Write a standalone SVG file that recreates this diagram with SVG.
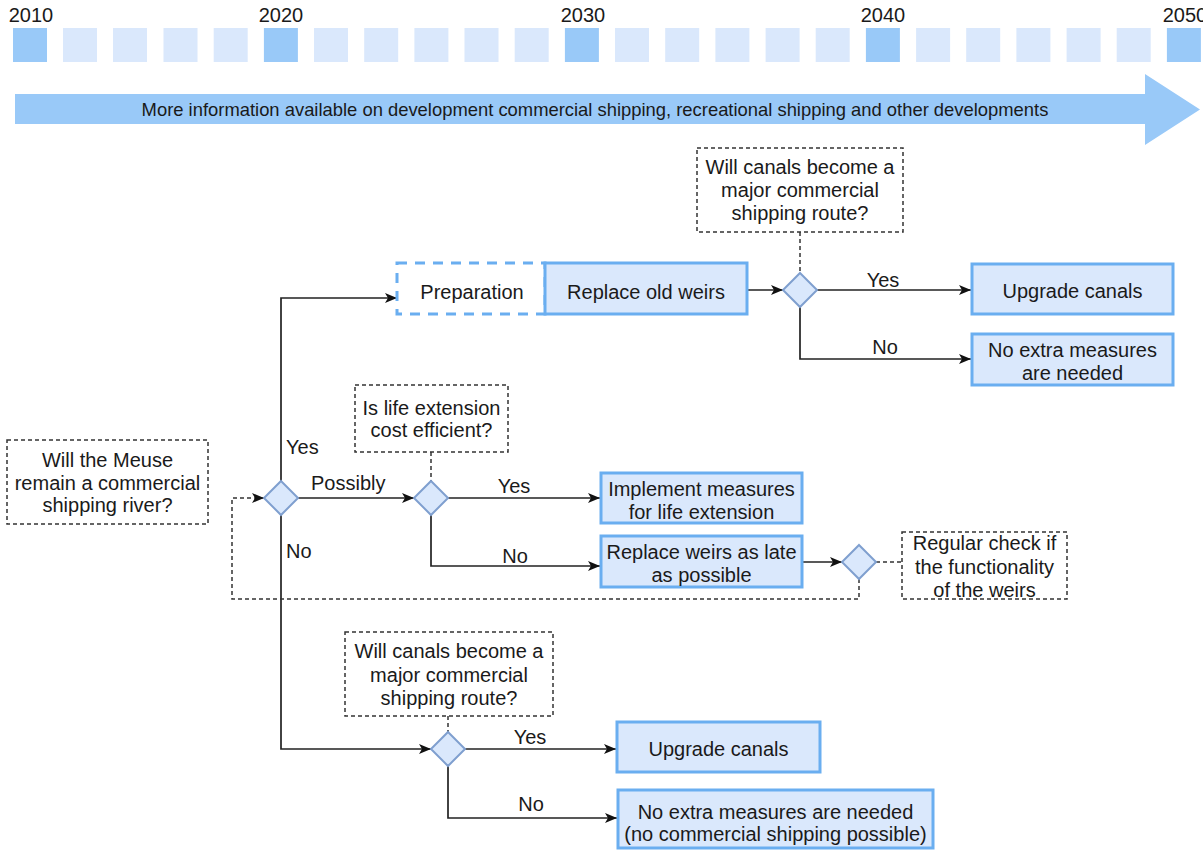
<svg xmlns="http://www.w3.org/2000/svg" width="1203" height="850" viewBox="0 0 1203 850">
<defs>
<style>
text{font-family:"Liberation Sans",Arial,sans-serif;fill:#1a1a1a;font-size:20px}
.c{text-anchor:middle}
.sq{fill:#dae8fc}
.sqd{fill:#99c9f8}
.box{fill:#dae8fc;stroke:#6aaef0;stroke-width:3}
.prep{fill:#ffffff;stroke:#6aaef0;stroke-width:3;stroke-dasharray:10 8}
.q{fill:#ffffff;stroke:#333333;stroke-width:1.5;stroke-dasharray:4 3}
.dia{fill:#dae8fc;stroke:#7f9fcf;stroke-width:2}
.ln{fill:none;stroke:#222222;stroke-width:1.7}
.dl{fill:none;stroke:#333333;stroke-width:1.5;stroke-dasharray:4 3}
</style>
<marker id="ah" viewBox="0 0 12 10" refX="12" refY="5" markerWidth="12" markerHeight="10" markerUnits="userSpaceOnUse" orient="auto">
<path d="M0,0 L12,5 L0,10 L3,5 z" fill="#111111"/>
</marker>
</defs>

<g id="timeline">
<text class="c" x="31" y="22">2010</text>
<text class="c" x="281" y="22">2020</text>
<text class="c" x="583" y="22">2030</text>
<text class="c" x="883" y="22">2040</text>
<text class="c" x="1185" y="22">2050</text>
<rect class="sqd" x="13" y="28" width="34" height="34"/>
<rect class="sq" x="63" y="28" width="34" height="34"/>
<rect class="sq" x="113" y="28" width="34" height="34"/>
<rect class="sq" x="163.5" y="28" width="34" height="34"/>
<rect class="sq" x="213.7" y="28" width="34" height="34"/>
<rect class="sqd" x="263.9" y="28" width="34" height="34"/>
<rect class="sq" x="314" y="28" width="34" height="34"/>
<rect class="sq" x="364.2" y="28" width="34" height="34"/>
<rect class="sq" x="414.4" y="28" width="34" height="34"/>
<rect class="sq" x="464.5" y="28" width="34" height="34"/>
<rect class="sq" x="514.7" y="28" width="34" height="34"/>
<rect class="sqd" x="564.9" y="28" width="34" height="34"/>
<rect class="sq" x="615" y="28" width="34" height="34"/>
<rect class="sq" x="665.2" y="28" width="34" height="34"/>
<rect class="sq" x="715.4" y="28" width="34" height="34"/>
<rect class="sq" x="765.6" y="28" width="34" height="34"/>
<rect class="sq" x="815.7" y="28" width="34" height="34"/>
<rect class="sqd" x="865.9" y="28" width="34" height="34"/>
<rect class="sq" x="916.1" y="28" width="34" height="34"/>
<rect class="sq" x="966.2" y="28" width="34" height="34"/>
<rect class="sq" x="1016.4" y="28" width="34" height="34"/>
<rect class="sq" x="1066.6" y="28" width="34" height="34"/>
<rect class="sq" x="1116.7" y="28" width="34" height="34"/>
<rect class="sqd" x="1166.9" y="28" width="34" height="34"/>
</g>

<g id="info-arrow">
<polygon points="15,94 1145,94 1145,74 1200,109.5 1145,145 1145,124 15,124" fill="#99c9f8"/>
<text class="c" x="595" y="116" style="font-size:18.4px">More information available on development commercial shipping, recreational shipping and other developments</text>
</g>

<g id="connectors">
<path class="ln" d="M281,481 V298 H397" marker-end="url(#ah)"/>
<path class="ln" d="M298,498 H414" marker-end="url(#ah)"/>
<path class="ln" d="M281,515 V749 H431" marker-end="url(#ah)"/>
<path class="ln" d="M448,498 H600" marker-end="url(#ah)"/>
<path class="ln" d="M431,515 V566 H600" marker-end="url(#ah)"/>
<path class="ln" d="M802,562 H842" marker-end="url(#ah)"/>
<path class="ln" d="M747,290 H783" marker-end="url(#ah)"/>
<path class="ln" d="M817,290 H971" marker-end="url(#ah)"/>
<path class="ln" d="M800,307 V359 H971" marker-end="url(#ah)"/>
<path class="ln" d="M465,749 H616" marker-end="url(#ah)"/>
<path class="ln" d="M448,766 V818 H617" marker-end="url(#ah)"/>
<path class="dl" d="M800,232 V273"/>
<path class="dl" d="M431,452 V481"/>
<path class="dl" d="M448,716 V732"/>
<path class="dl" d="M876,562 H902"/>
<path class="dl" d="M859,579 V599 H232 V498 H264" marker-end="url(#ah)"/>
<text x="286" y="454">Yes</text>
<text x="286" y="558">No</text>
<text x="311" y="490">Possibly</text>
<text class="c" x="514" y="493">Yes</text>
<text class="c" x="515" y="563">No</text>
<text class="c" x="883" y="287">Yes</text>
<text class="c" x="885" y="354">No</text>
<text class="c" x="530" y="744">Yes</text>
<text class="c" x="531" y="811">No</text>
</g>

<g id="q-meuse">
<rect class="q" x="7" y="440" width="201" height="84"/>
<text class="c" x="107.5" y="467">Will the Meuse</text>
<text class="c" x="107.5" y="490">remain a commercial</text>
<text class="c" x="107.5" y="512">shipping river?</text>
</g>
<g id="d-meuse"><polygon class="dia" points="281,481 298,498 281,515 264,498"/></g>

<g id="preparation">
<rect class="prep" x="397" y="263" width="148" height="51"/>
<text class="c" x="472" y="299">Preparation</text>
</g>
<g id="replace-old">
<rect class="box" x="545" y="263" width="202" height="51"/>
<text class="c" x="646" y="299">Replace old weirs</text>
</g>

<g id="q-canals-top">
<rect class="q" x="697" y="148" width="206" height="84"/>
<text class="c" x="800" y="174">Will canals become a</text>
<text class="c" x="800" y="197">major commercial</text>
<text class="c" x="800" y="220">shipping route?</text>
</g>
<g id="d-canals-top"><polygon class="dia" points="800,273 817,290 800,307 783,290"/></g>
<g id="upgrade-top">
<rect class="box" x="972" y="264" width="201" height="50"/>
<text class="c" x="1072.5" y="298">Upgrade canals</text>
</g>
<g id="noextra-top">
<rect class="box" x="972" y="334" width="201" height="51"/>
<text class="c" x="1072.5" y="357">No extra measures</text>
<text class="c" x="1072.5" y="380">are needed</text>
</g>

<g id="q-life">
<rect class="q" x="355" y="385" width="153" height="67"/>
<text class="c" x="431.5" y="415">Is life extension</text>
<text class="c" x="431.5" y="437">cost efficient?</text>
</g>
<g id="d-life"><polygon class="dia" points="431,481 448,498 431,515 414,498"/></g>
<g id="implement">
<rect class="box" x="601" y="473" width="201" height="50"/>
<text class="c" x="701.5" y="496">Implement measures</text>
<text class="c" x="701.5" y="519">for life extension</text>
</g>
<g id="replace-late">
<rect class="box" x="601" y="536" width="201" height="51"/>
<text class="c" x="701.5" y="559">Replace weirs as late</text>
<text class="c" x="701.5" y="582">as possible</text>
</g>
<g id="d-check"><polygon class="dia" points="859,545 876,562 859,579 842,562"/></g>
<g id="q-check">
<rect class="q" x="902" y="532" width="165" height="67"/>
<text class="c" x="984.5" y="550">Regular check if</text>
<text class="c" x="984.5" y="574">the functionality</text>
<text class="c" x="984.5" y="597">of the weirs</text>
</g>

<g id="q-canals-bottom">
<rect class="q" x="345" y="632" width="208" height="84"/>
<text class="c" x="449" y="658">Will canals become a</text>
<text class="c" x="449" y="682">major commercial</text>
<text class="c" x="449" y="705">shipping route?</text>
</g>
<g id="d-canals-bottom"><polygon class="dia" points="448,732 465,749 448,766 431,749"/></g>
<g id="upgrade-bottom">
<rect class="box" x="617" y="722" width="203" height="50"/>
<text class="c" x="718.5" y="756">Upgrade canals</text>
</g>
<g id="noextra-bottom">
<rect class="box" x="618" y="790" width="315" height="58"/>
<text class="c" x="775.5" y="819">No extra measures are needed</text>
<text class="c" x="775.5" y="841">(no commercial shipping possible)</text>
</g>
</svg>
